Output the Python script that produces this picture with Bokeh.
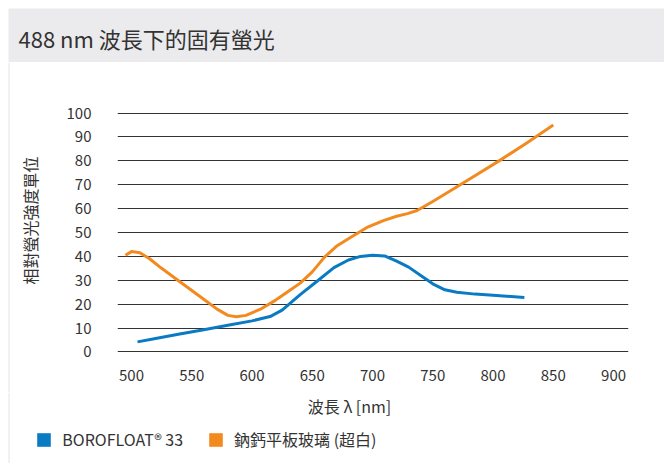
import math
from bokeh.plotting import figure
from bokeh.models import Range1d, FixedTicker, Label, Legend, LegendItem
from bokeh.layouts import column, row
from bokeh.embed import file_html
from bokeh.resources import INLINE

# ---- data ----
title_text = "488 nm 波長下的固有螢光"
x_label = "波長 λ [nm]"
y_label = "相對螢光強度單位"
series_names = ["BOROFLOAT® 33", "鈉鈣平板玻璃 (超白)"]

boro_nm = [505, 520, 540, 560, 580, 600, 615, 625, 640, 655, 668, 680, 690,
           700, 710, 720, 730, 740, 750, 760, 770, 785, 800, 815, 826]
boro_val = [4.2, 5.6, 7.5, 9.3, 11.2, 13.0, 14.8, 17.5, 24.0, 30.0, 35.3, 38.5,
            40.0, 40.5, 40.2, 38.0, 35.5, 32.0, 28.5, 26.0, 25.0, 24.2, 23.7,
            23.2, 22.8]

soda_nm = [495, 500, 507, 515, 525, 541, 556, 571, 580, 587, 595, 607, 620,
           630, 640, 650, 660, 670, 682, 695, 709, 720, 729, 737, 750, 765,
           785, 806, 828, 850]
soda_val = [40.5, 42.0, 41.5, 39.0, 35.0, 29.1, 23.5, 17.9, 15.3, 14.7, 15.3,
            17.9, 21.8, 25.3, 28.8, 33.5, 39.6, 44.2, 48.0, 52.0, 55.0, 56.8,
            57.9, 59.2, 63.0, 67.6, 73.8, 80.3, 87.5, 95.0]

x_ticks = [500, 550, 600, 650, 700, 750, 800, 850, 900]
y_ticks = [0, 10, 20, 30, 40, 50, 60, 70, 80, 90, 100]

BLUE = "#0a7bc2"
ORANGE = "#f28a1f"
TEXT = "#333333"
BAND = "#ebebed"
EDGE = "#e4e4e6"
FONT = "Noto Sans CJK TC"

W_TOTAL, H_HEAD, H_MID, W_LEFT = 664, 62, 330, 50
H_BOT = 463 - H_HEAD - H_MID


def panel(w, h):
    f = figure(width=w, height=h, x_range=Range1d(0, w), y_range=Range1d(0, h),
               output_backend="svg", toolbar_location=None, min_border=0,
               frame_align=False, background_fill_color="white",
               border_fill_color="white", outline_line_color=None)
    f.axis.visible = False
    f.grid.visible = False
    return f


# ---- header band with title ----
head = panel(W_TOTAL, H_HEAD)
head.quad(left=[8], right=[W_TOTAL], bottom=[0], top=[54], fill_color=BAND,
          line_color=None)
head.add_layout(Label(x=18, y=25, text=title_text, text_font=FONT,
                      text_font_size="22px", text_color=TEXT,
                      text_baseline="middle", text_align="left"))

# ---- left strip: edge line + y axis title ----
left = panel(W_LEFT, H_MID)
left.segment(x0=[8.5], x1=[8.5], y0=[0], y1=[H_MID], line_color=EDGE,
             line_width=1)
left.add_layout(Label(x=29, y=H_MID - 158, text=y_label, angle=math.pi / 2,
                      text_font=FONT, text_font_size="16px", text_color=TEXT,
                      text_align="center", text_baseline="middle"))

# ---- main chart ----
p = figure(width=W_TOTAL - W_LEFT, height=H_MID,
           x_range=Range1d(488.4, 912.4), y_range=Range1d(-1.5, 101.5),
           output_backend="svg", toolbar_location=None,
           min_border_left=117 - W_LEFT, min_border_right=36,
           min_border_top=47, min_border_bottom=H_MID - 47 - 246,
           frame_align=False, background_fill_color="white",
           border_fill_color="white", outline_line_color=None)

p.line(boro_nm, boro_val, line_color=BLUE, line_width=3, line_join="round")
p.line(soda_nm, soda_val, line_color=ORANGE, line_width=3, line_join="round")

p.xaxis.ticker = FixedTicker(ticks=x_ticks)
p.yaxis.ticker = FixedTicker(ticks=y_ticks)
p.xgrid.visible = False
p.ygrid.grid_line_color = "#333333"
p.ygrid.grid_line_width = 1

for ax in (p.xaxis[0], p.yaxis[0]):
    ax.axis_line_color = None
    ax.major_tick_line_color = None
    ax.minor_tick_line_color = None
    ax.major_tick_out = 0
    ax.major_tick_in = 0
    ax.major_label_text_font = FONT
    ax.major_label_text_font_size = "15px"
    ax.major_label_text_color = TEXT

p.xaxis.major_label_standoff = 14
p.yaxis.major_label_standoff = 26

# ---- bottom strip: x axis title + legend ----
bot = panel(W_TOTAL, H_BOT)
bot.segment(x0=[8.5], x1=[8.5], y0=[0], y1=[H_BOT], line_color=EDGE,
            line_width=1)
bot.add_layout(Label(x=349, y=H_BOT - 13, text=x_label, text_font=FONT,
                     text_font_size="16px", text_color=TEXT,
                     text_align="center", text_baseline="middle"))
# legend swatch renderers (kept outside the visible range)
r1 = bot.quad(left=[-20], right=[-10], top=[-10], bottom=[-20],
              fill_color=BLUE, line_color=None)
r2 = bot.quad(left=[-20], right=[-10], top=[-10], bottom=[-20],
              fill_color=ORANGE, line_color=None)
legend = Legend(items=[LegendItem(label=series_names[0], renderers=[r1]),
                       LegendItem(label=series_names[1], renderers=[r2])],
                location=(35.3, 12), orientation="horizontal",
                glyph_width=17, glyph_height=17, label_height=16,
                label_width=10, label_standoff=10, spacing=24, padding=0,
                margin=0, border_line_color=None, background_fill_alpha=0,
                label_text_font=FONT, label_text_font_size="16px",
                label_text_color=TEXT)
bot.add_layout(legend, "center")

layout = column(head, row(left, p, spacing=0), bot, spacing=0)
open("out.html", "w").write(file_html(layout, INLINE))
